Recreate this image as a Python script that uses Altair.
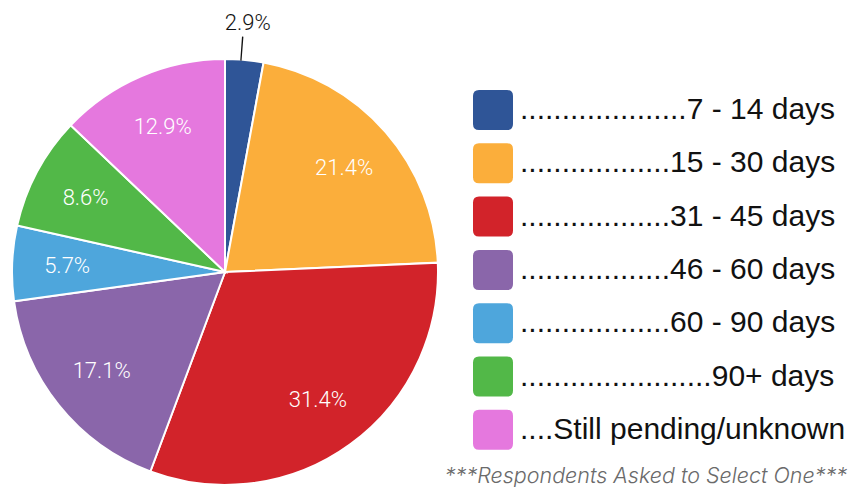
import altair as alt
import pandas as pd

# ---- data ----
categories = ["7 - 14 days", "15 - 30 days", "31 - 45 days", "46 - 60 days",
              "60 - 90 days", "90+ days", "Still pending/unknown"]
percentages = [2.9, 21.4, 31.4, 17.1, 5.7, 8.6, 12.9]
leader_dots = [20, 18, 18, 18, 18, 23, 4]
colors = ["#2F5597", "#FBAE3B", "#D2232A", "#8A66AA", "#4EA6DC", "#52B848", "#E578DE"]
footnote = "***Respondents Asked to Select One***"

df = pd.DataFrame({
    "category": categories,
    "pct": percentages,
    "order": list(range(len(categories))),
})
df["legend"] = ["." * n + c for n, c in zip(leader_dots, categories)]
df["label"] = [f"{p:.1f}%" for p in percentages]

CX, CY, R = 217, 264, 213

rounded_square = ("M-0.7,-1H0.7Q1,-1,1,-0.7V0.7Q1,1,0.7,1H-0.7Q-1,1,-1,0.7"
                  "V-0.7Q-1,-1,-0.7,-1Z")

color = alt.Color(
    "legend:N",
    scale=alt.Scale(domain=df["legend"].tolist(), range=colors),
    legend=alt.Legend(
        title=None, orient="none", legendX=465, legendY=82,
        symbolType=rounded_square, symbolSize=1600, symbolStrokeWidth=0,
        symbolOpacity=1, labelFont="Liberation Sans", labelFontSize=30,
        labelColor="#111111", labelOffset=7, labelLimit=500,
        rowPadding=13.3, padding=0,
    ),
)

pie = alt.Chart(df).mark_arc(radius=R, stroke="white", strokeWidth=2).encode(
    theta=alt.Theta("pct:Q", stack=True),
    order=alt.Order("order:Q"),
    color=color, x=alt.value(CX), y=alt.value(CY)
)

# cumulative angles (radians) computed from the percentages
angles = alt.Chart(df).transform_window(
    cum="sum(pct)", sort=[alt.SortField("order")]
).transform_calculate(
    mid="(datum.cum - datum.pct / 2) / 100 * 2 * PI",
)

labels = angles.transform_calculate(
    lr="datum.pct < 5 ? 250 : 158",
).mark_text(font="Roboto", fontWeight=300, fontSize=22).encode(
    text="label:N",
    theta=alt.Theta("mid:Q", scale=None, stack=None),
    radius=alt.Radius("lr:Q", scale=None, stack=None),
    color=alt.condition("datum.pct < 5", alt.value("#111111"), alt.value("#ffffff")),
    x=alt.value(CX), y=alt.value(CY),
)

leader = angles.transform_calculate(
    a0="datum.mid - 0.019",
    a1="datum.mid - 0.013",
).transform_filter("datum.pct < 5").mark_arc(
    fill="#111111", radius=212, radius2=236
).encode(
    theta=alt.Theta("a0:Q", scale=None, stack=None),
    theta2="a1:Q",
    x=alt.value(CX), y=alt.value(CY),
)

foot = alt.Chart(pd.DataFrame({"t": [footnote]})).mark_text(
    font="Inter", fontStyle="italic", fontWeight=300, fontSize=21.5,
    color="#6a6a6a", align="right", baseline="alphabetic",
).encode(text="t:N", x=alt.value(839), y=alt.value(475))

chart = alt.layer(pie, leader, labels, foot).properties(
    width=846, height=479, padding=0,
    autosize=alt.AutoSizeParams(type="fit", contains="padding"),
).configure_view(stroke=None)

chart.save("out.html", embed_options={"renderer": "svg", "actions": False})
